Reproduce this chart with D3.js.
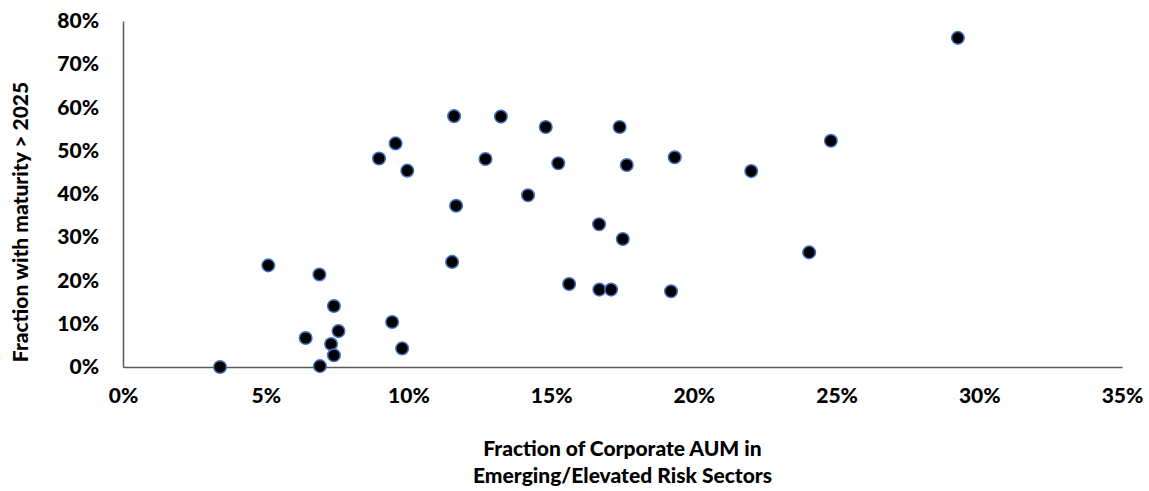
<!DOCTYPE html>
<html>
<head>
<meta charset="utf-8">
<script src="https://cdn.jsdelivr.net/npm/d3@7"></script>
<style>
  body { margin: 0; background: #fff; }
  text { font-family: Lato, "Open Sans", sans-serif; font-weight: 900; fill: #000; }
</style>
</head>
<body>
<div class="wrapper"></div>
<script>
// fraction of corporate AUM in emerging/elevated risk sectors (%)
var xVals = [3.40, 5.09, 6.88, 7.39, 6.40, 7.55, 7.29, 7.39, 6.90, 8.97, 9.55, 9.43,
             9.96, 9.78, 11.60, 13.24, 14.81, 17.40, 12.70, 15.25, 17.65, 19.33, 22.01,
             14.19, 11.67, 16.68, 17.51, 11.53, 15.63, 16.69, 17.10, 19.20,
             29.25, 24.80, 24.04];
// fraction with maturity > 2025 (%)
var yVals = [0.0, 23.5, 21.4, 14.1, 6.7, 8.3, 5.3, 2.7, 0.2, 48.2, 51.7, 10.4,
             45.4, 4.3, 58.0, 57.9, 55.5, 55.5, 48.1, 47.1, 46.7, 48.5, 45.3,
             39.7, 37.3, 33.0, 29.6, 24.3, 19.2, 17.9, 17.9, 17.5,
             76.1, 52.3, 26.5];
var xTicks = [0, 5, 10, 15, 20, 25, 30, 35];
var yTicks = [0, 10, 20, 30, 40, 50, 60, 70, 80];

var w = 1149, h = 491;
var margin = {top: 21, right: 27, bottom: 124, left: 123};

var svg = d3.select(".wrapper").append("svg")
    .attr("width", w)
    .attr("height", h);

var x = d3.scaleLinear().domain([0, 35]).range([margin.left, w - margin.right]);
var y = d3.scaleLinear().domain([0, 80]).range([h - margin.bottom, margin.top]);

var xAxis = svg.append("g")
    .attr("transform", "translate(0," + y(0) + ")")
    .call(d3.axisBottom(x).tickValues(xTicks).tickSize(0).tickPadding(21)
      .tickFormat(function(d) { return d + "%"; }));

var yAxis = svg.append("g")
    .attr("transform", "translate(" + x(0) + ",0)")
    .call(d3.axisLeft(y).tickValues(yTicks).tickSize(0).tickPadding(24)
      .tickFormat(function(d) { return d + "%"; }));

[xAxis, yAxis].forEach(function(a) {
  a.select(".domain").attr("stroke", "#595959").attr("stroke-width", 1.5);
  a.selectAll("text").attr("font-size", 21).attr("font-family", null);
});

svg.selectAll("circle")
    .data(xVals.map(function(v, i) { return {x: v, y: yVals[i]}; }))
  .enter().append("circle")
    .attr("cx", function(d) { return x(d.x); })
    .attr("cy", function(d) { return y(d.y); })
    .attr("r", 6.3)
    .attr("fill", "#000")
    .attr("stroke", "#4472C4")
    .attr("stroke-width", 1.5);

svg.append("text")
    .attr("transform", "translate(28,222) rotate(-90)")
    .attr("text-anchor", "middle")
    .attr("font-size", 21)
    .text("Fraction with maturity > 2025");

var cx = (x(0) + x(35)) / 2;
svg.append("text")
    .attr("x", cx).attr("y", 456)
    .attr("text-anchor", "middle")
    .attr("font-size", 21)
    .text("Fraction of Corporate AUM in");
svg.append("text")
    .attr("x", cx).attr("y", 483)
    .attr("text-anchor", "middle")
    .attr("font-size", 21)
    .text("Emerging/Elevated Risk Sectors");
</script>
</body>
</html>
